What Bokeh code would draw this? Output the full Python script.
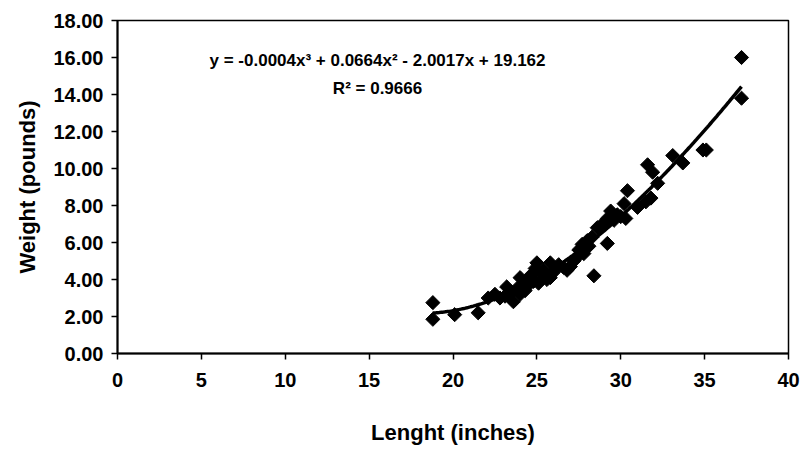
import numpy as np
from bokeh.plotting import figure
from bokeh.models import Label, FixedTicker, NumeralTickFormatter, ColumnDataSource
from bokeh.embed import file_html
from bokeh.resources import INLINE

# Data
length_in = [18.8, 18.8, 20.1, 21.5, 22.1, 22.5, 22.8, 23.1, 23.2, 23.5, 23.6, 23.8, 24.0, 24.0,
             24.2, 24.3, 24.5, 24.6, 24.8, 24.9, 25.0, 25.1, 25.3, 25.4, 25.6, 25.8, 25.8, 26.0,
             26.3, 26.6, 26.8, 27.0, 27.2, 27.4, 27.5, 27.7, 27.8, 28.0, 28.1, 28.3, 28.4, 28.6,
             28.8, 29.0, 29.2, 29.2, 29.4, 29.6, 29.8, 30.0, 30.2, 30.3, 30.4, 31.0, 31.5, 31.6,
             31.8, 31.9, 32.2, 33.1, 33.7, 34.9, 35.1, 37.2, 37.2]
weight_lb = [2.75, 1.85, 2.1, 2.2, 3.0, 3.2, 3.0, 3.1, 3.6, 3.3, 2.8, 3.5, 3.2, 4.1,
             3.8, 3.4, 3.7, 4.2, 3.9, 4.6, 4.9, 3.8, 4.3, 4.5, 4.0, 4.9, 4.1, 4.4,
             4.8, 4.65, 4.5, 4.7, 5.0, 5.2, 5.6, 5.9, 5.4, 6.1, 5.8, 6.3, 4.2, 6.8,
             6.9, 7.0, 7.3, 5.95, 7.7, 7.2, 7.5, 7.4, 8.1, 7.3, 8.8, 7.9, 8.2, 10.2,
             8.4, 9.8, 9.2, 10.7, 10.3, 11.0, 11.0, 16.0, 13.8]

x_ticks = [0, 5, 10, 15, 20, 25, 30, 35, 40]
y_ticks = [0, 2, 4, 6, 8, 10, 12, 14, 16, 18]
equation_text = "y = -0.0004x\u00b3 + 0.0664x\u00b2 - 2.0017x + 19.162"
r2_text = "R\u00b2 = 0.9666"

FONT = "Liberation Sans"

p = figure(width=812, height=451, output_backend="svg", toolbar_location=None,
           x_range=(0, 40), y_range=(0, 18),
           min_border_left=117, min_border_right=24, min_border_top=20, min_border_bottom=98)
p.background_fill_color = "white"
p.border_fill_color = "white"
p.outline_line_color = "black"
p.outline_line_width = 1.5
p.xgrid.visible = False
p.ygrid.visible = False

# trend line: cubic polynomial fit of the data
coef = np.polyfit(length_in, weight_lb, 3)
xs = np.linspace(min(length_in), max(length_in), 200)
p.line(xs, np.polyval(coef, xs), line_color="black", line_width=3.5)

src = ColumnDataSource(dict(x=length_in, y=weight_lb))
p.scatter("x", "y", source=src, marker="square", angle=np.pi / 4, size=10,
          fill_color="black", line_color="black")

for ax in (p.xaxis, p.yaxis):
    ax.axis_line_color = "black"
    ax.axis_line_width = 2
    ax.major_tick_line_color = "black"
    ax.major_tick_line_width = 1.5
    ax.major_tick_out = 6
    ax.major_tick_in = 0
    ax.minor_tick_line_color = None
    ax.major_label_text_font = FONT
    ax.major_label_text_font_style = "bold"
    ax.major_label_text_font_size = "20px"
    ax.major_label_text_color = "black"
    ax.axis_label_text_font = FONT
    ax.axis_label_text_font_style = "bold"
    ax.axis_label_text_font_size = "22px"
    ax.axis_label_text_color = "black"

p.xaxis.ticker = FixedTicker(ticks=x_ticks)
p.yaxis.ticker = FixedTicker(ticks=y_ticks)
p.yaxis.formatter = NumeralTickFormatter(format="0.00")
p.xaxis.axis_label = "Lenght (inches)"
p.yaxis.axis_label = "Weight (pounds)"
p.xaxis.major_label_standoff = 13
p.yaxis.major_label_standoff = 8
p.xaxis.axis_label_standoff = 30
p.yaxis.axis_label_standoff = 10

p.add_layout(Label(x=15.5, y=15.85, text=equation_text, text_align="center", text_baseline="middle",
                   text_font=FONT, text_font_style="bold", text_font_size="17px", text_color="black"))
p.add_layout(Label(x=15.5, y=14.35, text=r2_text, text_align="center", text_baseline="middle",
                   text_font=FONT, text_font_style="bold", text_font_size="17px", text_color="black"))

open("out.html", "w").write(file_html(p, INLINE))
